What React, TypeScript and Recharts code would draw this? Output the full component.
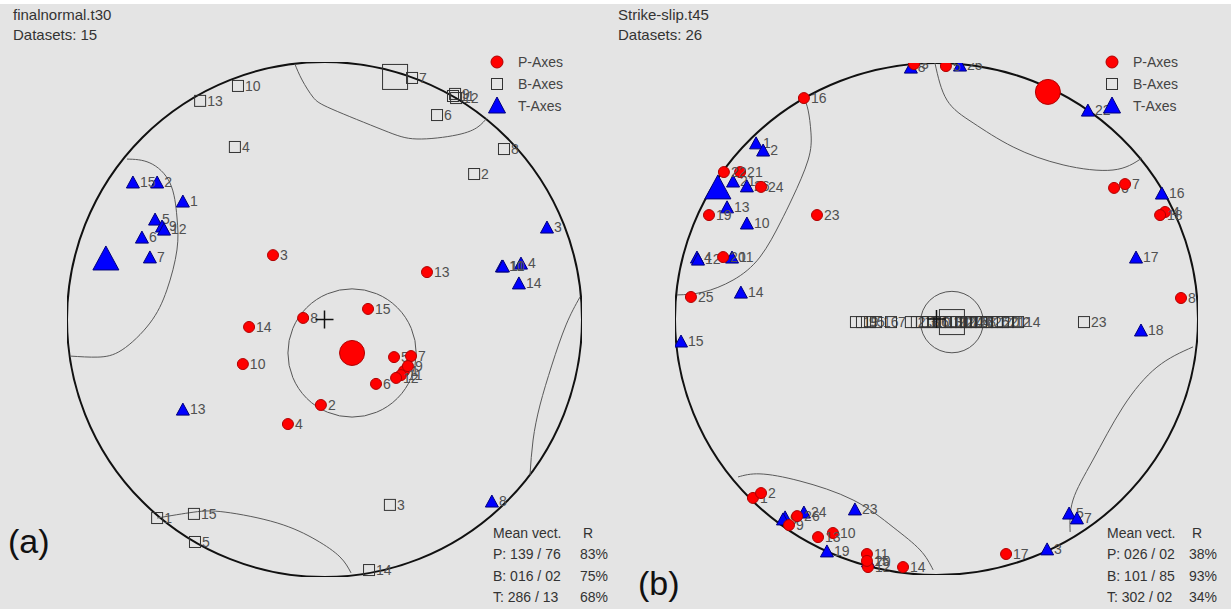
import { ScatterChart, Scatter, XAxis, YAxis } from 'recharts';

type Pt = { id?: number; x: number; y: number };

// Coordinates are on the unit primitive circle: x = east, y = north.

// ---- net (a) finalnormal.t30 ----
const A_P: Pt[] = [
  { id: 1, x: 0.309, y: -0.2 }, { id: 2, x: -0.014, y: -0.332 }, { id: 3, x: -0.2, y: 0.25 },
  { id: 4, x: -0.142, y: -0.406 }, { id: 5, x: 0.27, y: -0.146 }, { id: 6, x: 0.2, y: -0.25 },
  { id: 7, x: 0.336, y: -0.142 }, { id: 8, x: -0.083, y: 0.006 }, { id: 9, x: 0.324, y: -0.181 },
  { id: 10, x: -0.317, y: -0.173 }, { id: 11, x: 0.297, y: -0.216 }, { id: 12, x: 0.278, y: -0.227 },
  { id: 13, x: 0.398, y: 0.184 }, { id: 14, x: -0.293, y: -0.029 }, { id: 15, x: 0.169, y: 0.041 },
];
const A_B: Pt[] = [
  { id: 1, x: -0.65, y: -0.771 }, { id: 2, x: 0.581, y: 0.565 }, { id: 3, x: 0.254, y: -0.72 },
  { id: 4, x: -0.348, y: 0.67 }, { id: 5, x: -0.503, y: -0.864 }, { id: 6, x: 0.437, y: 0.794 },
  { id: 7, x: 0.34, y: 0.938 }, { id: 8, x: 0.697, y: 0.662 }, { id: 9, x: 0.507, y: 0.876 },
  { id: 10, x: -0.336, y: 0.907 }, { id: 11, x: 0.499, y: 0.868 }, { id: 12, x: 0.511, y: 0.86 },
  { id: 13, x: -0.483, y: 0.849 }, { id: 14, x: 0.173, y: -0.973 }, { id: 15, x: -0.507, y: -0.755 },
];
const A_T: Pt[] = [
  { id: 1, x: -0.55, y: 0.46 }, { id: 2, x: -0.65, y: 0.534 }, { id: 3, x: 0.864, y: 0.359 },
  { id: 4, x: 0.763, y: 0.219 }, { id: 5, x: -0.658, y: 0.39 }, { id: 6, x: -0.709, y: 0.32 },
  { id: 7, x: -0.678, y: 0.243 }, { id: 8, x: 0.65, y: -0.705 }, { id: 9, x: -0.631, y: 0.363 },
  { id: 10, x: 0.689, y: 0.208 }, { id: 11, x: 0.693, y: 0.208 }, { id: 12, x: -0.623, y: 0.351 },
  { id: 13, x: -0.55, y: -0.348 }, { id: 14, x: 0.755, y: 0.142 }, { id: 15, x: -0.744, y: 0.534 },
];
const A_MEAN_P: Pt[] = [{ x: 0.107, y: -0.13 }];
const A_MEAN_B: Pt[] = [{ x: 0.274, y: 0.942 }];
const A_MEAN_T: Pt[] = [{ x: -0.849, y: 0.239 }];
const A_CONE_R = 0.249;
const A_CURVES: Pt[][] = [
  [
    { x: -0.115, y: 0.992 }, { x: -0.087, y: 0.93 }, { x: -0.045, y: 0.864 }, { x: 0.029, y: 0.817 },
    { x: 0.227, y: 0.736 }, { x: 0.359, y: 0.701 }, { x: 0.515, y: 0.717 }, { x: 0.596, y: 0.748 },
    { x: 0.631, y: 0.783 },
  ],
  [
    { x: -0.767, y: 0.623 }, { x: -0.678, y: 0.608 }, { x: -0.6, y: 0.53 }, { x: -0.573, y: 0.398 },
    { x: -0.573, y: 0.27 }, { x: -0.612, y: 0.115 }, { x: -0.678, y: -0.014 }, { x: -0.786, y: -0.118 },
    { x: -0.88, y: -0.146 }, { x: -0.988, y: -0.142 },
  ],
  [
    { x: 0.992, y: 0.087 }, { x: 0.938, y: -0.021 }, { x: 0.883, y: -0.177 }, { x: 0.837, y: -0.332 },
    { x: 0.81, y: -0.468 }, { x: 0.798, y: -0.604 },
  ],
  [
    { x: -0.65, y: -0.771 }, { x: -0.507, y: -0.748 }, { x: -0.386, y: -0.748 }, { x: -0.184, y: -0.79 },
    { x: -0.033, y: -0.856 }, { x: 0.06, y: -0.922 }, { x: 0.103, y: -0.984 },
  ],
];
const A_TITLE = ['finalnormal.t30', 'Datasets: 15'];
const A_STATS = [['P: 139 / 76', '83%'], ['B: 016 / 02', '75%'], ['T: 286 / 13', '68%']];

// ---- net (b) Strike-slip.t45 ----
const B_P: Pt[] = [
  { id: 1, x: -0.702, y: -0.699 }, { id: 2, x: -0.671, y: -0.68 }, { id: 3, x: -0.086, y: 0.996 },
  { id: 4, x: 0.874, y: 0.418 }, { id: 5, x: 0.036, y: 0.988 }, { id: 6, x: 0.679, y: 0.512 },
  { id: 7, x: 0.721, y: 0.527 }, { id: 8, x: 0.935, y: 0.082 }, { id: 9, x: -0.564, y: -0.805 },
  { id: 10, x: -0.396, y: -0.836 }, { id: 11, x: -0.266, y: -0.918 }, { id: 12, x: -0.262, y: -0.969 },
  { id: 13, x: -0.453, y: -0.852 }, { id: 14, x: -0.128, y: -0.969 }, { id: 15, x: -0.266, y: -0.945 },
  { id: 16, x: -0.507, y: 0.863 }, { id: 17, x: 0.266, y: -0.918 }, { id: 18, x: 0.855, y: 0.406 },
  { id: 19, x: -0.87, y: 0.406 }, { id: 20, x: -0.816, y: 0.242 }, { id: 21, x: -0.751, y: 0.574 },
  { id: 22, x: -0.813, y: 0.574 }, { id: 23, x: -0.457, y: 0.406 }, { id: 24, x: -0.671, y: 0.516 },
  { id: 25, x: -0.939, y: 0.086 }, { id: 26, x: -0.533, y: -0.77 },
];
const B_B: Pt[] = [
  { id: 19, x: -0.308, y: -0.012 }, { id: 9, x: -0.285, y: -0.012 }, { id: 5, x: -0.254, y: -0.012 },
  { id: 16, x: -0.231, y: -0.012 }, { id: 7, x: -0.174, y: -0.012 }, { id: 2, x: -0.098, y: -0.012 },
  { id: 18, x: -0.075, y: -0.012 }, { id: 3, x: -0.055, y: -0.012 }, { id: 10, x: -0.033, y: -0.012 },
  { id: 6, x: -0.01, y: -0.012 }, { id: 13, x: 0.013, y: -0.012 }, { id: 11, x: 0.036, y: -0.012 },
  { id: 22, x: 0.055, y: -0.012 }, { id: 17, x: 0.075, y: -0.012 }, { id: 24, x: 0.094, y: -0.012 },
  { id: 15, x: 0.113, y: -0.012 }, { id: 26, x: 0.132, y: -0.012 }, { id: 4, x: 0.151, y: -0.012 },
  { id: 8, x: 0.17, y: -0.012 }, { id: 25, x: 0.193, y: -0.012 }, { id: 1, x: 0.212, y: -0.012 },
  { id: 20, x: 0.231, y: -0.012 }, { id: 21, x: 0.254, y: -0.012 }, { id: 12, x: 0.273, y: -0.012 },
  { id: 14, x: 0.312, y: -0.012 }, { id: 23, x: 0.564, y: -0.012 },
];
const B_T: Pt[] = [
  { id: 1, x: -0.69, y: 0.688 }, { id: 2, x: -0.663, y: 0.66 }, { id: 3, x: 0.423, y: -0.898 },
  { id: 4, x: -0.916, y: 0.242 }, { id: 5, x: 0.507, y: -0.758 }, { id: 6, x: -0.579, y: -0.773 },
  { id: 7, x: 0.537, y: -0.777 }, { id: 8, x: -0.098, y: 0.984 }, { id: 9, x: -0.587, y: -0.781 },
  { id: 10, x: -0.725, y: 0.375 }, { id: 11, x: -0.782, y: 0.242 }, { id: 12, x: -0.912, y: 0.234 },
  { id: 13, x: -0.801, y: 0.438 }, { id: 14, x: -0.748, y: 0.105 }, { id: 15, x: -0.977, y: -0.086 },
  { id: 16, x: 0.862, y: 0.492 }, { id: 17, x: 0.763, y: 0.242 }, { id: 18, x: 0.782, y: -0.043 },
  { id: 19, x: -0.419, y: -0.906 }, { id: 20, x: -0.262, y: -0.945 }, { id: 21, x: -0.778, y: 0.539 },
  { id: 22, x: 0.579, y: 0.816 }, { id: 23, x: -0.312, y: -0.742 }, { id: 24, x: -0.507, y: -0.754 },
  { id: 25, x: 0.09, y: 0.992 }, { id: 26, x: -0.725, y: 0.52 },
];
const B_MEAN_P: Pt[] = [{ x: 0.426, y: 0.887 }];
const B_MEAN_B: Pt[] = [{ x: 0.059, y: -0.012 }];
const B_MEAN_T: Pt[] = [{ x: -0.836, y: 0.516 }];
const B_CONE_R = 0.12;
const B_CURVES: Pt[][] = [
  [
    { x: -0.507, y: 0.863 }, { x: -0.491, y: 0.816 }, { x: -0.48, y: 0.727 }, { x: -0.491, y: 0.621 },
    { x: -0.549, y: 0.477 }, { x: -0.598, y: 0.375 }, { x: -0.675, y: 0.242 }, { x: -0.778, y: 0.152 },
    { x: -0.893, y: 0.105 }, { x: -0.992, y: 0.094 },
  ],
  [
    { x: -0.006, y: 1.0 }, { x: 0.04, y: 0.855 }, { x: 0.14, y: 0.766 }, { x: 0.293, y: 0.672 },
    { x: 0.484, y: 0.602 }, { x: 0.675, y: 0.582 }, { x: 0.786, y: 0.629 },
  ],
  [
    { x: 0.981, y: -0.109 }, { x: 0.843, y: -0.188 }, { x: 0.713, y: -0.344 }, { x: 0.598, y: -0.551 },
    { x: 0.522, y: -0.707 }, { x: 0.511, y: -0.832 },
  ],
  [
    { x: -0.759, y: -0.617 }, { x: -0.675, y: -0.605 }, { x: -0.522, y: -0.633 }, { x: -0.319, y: -0.707 },
    { x: -0.166, y: -0.813 }, { x: -0.063, y: -0.902 }, { x: -0.013, y: -0.98 },
  ],
];
const B_TITLE = ['Strike-slip.t45', 'Datasets: 26'];
const B_STATS = [['P: 026 / 02', '38%'], ['B: 101 / 85', '93%'], ['T: 302 / 02', '34%']];

const CENTER: Pt[] = [{ x: 0, y: 0 }];
const LEGEND = ['P-Axes', 'B-Axes', 'T-Axes'];

const FONT = '"Liberation Sans", Arial, sans-serif';
const LABEL = '#505050';
const RED = '#ff0000';
const BLUE = '#0000ff';

function tri(cx: number, cy: number, w: number, h: number) {
  return `${cx},${cy - h / 2} ${cx - w / 2},${cy + h / 2} ${cx + w / 2},${cy + h / 2}`;
}

const label = (p: any) =>
  p.payload?.id != null ? (
    <text x={p.cx + 7} y={p.cy + 5} fontSize={14} fill={LABEL} fontFamily={FONT}>
      {p.payload.id}
    </text>
  ) : null;

const pShape = (r: number) => (p: any) => (
  <g>
    <circle cx={p.cx} cy={p.cy} r={r} fill={RED} stroke="#b00000" strokeWidth={1} />
    {label(p)}
  </g>
);
const bShape = (s: number) => (p: any) => (
  <g>
    <rect x={p.cx - s / 2} y={p.cy - s / 2} width={s} height={s} fill="none" stroke="#333" strokeWidth={1} />
    {label(p)}
  </g>
);
const tShape = (w: number, h: number) => (p: any) => (
  <g>
    <polygon points={tri(p.cx, p.cy, w, h)} fill={BLUE} stroke="#00007a" strokeWidth={1} />
    {label(p)}
  </g>
);
const none = () => <g />;

interface NetProps {
  left: number;
  width: number;
  height: number;
  margin: { top: number; right: number; bottom: number; left: number };
  p: Pt[];
  b: Pt[];
  t: Pt[];
  meanP: Pt[];
  meanB: Pt[];
  meanT: Pt[];
  cone: Pt[];
  coneR: number;
  curves: Pt[][];
}

function Net(props: NetProps) {
  const { margin } = props;
  const rx = (props.width - margin.left - margin.right) / 2;
  const ry = (props.height - margin.top - margin.bottom) / 2;

  const frame = (s: any) => (
    <g stroke="#111" fill="none">
      <ellipse cx={s.cx} cy={s.cy} rx={rx} ry={ry} strokeWidth={2} />
      <line x1={s.cx} y1={s.cy - ry} x2={s.cx} y2={s.cy - ry - 24} strokeWidth={1.5} />
      <line x1={s.cx} y1={s.cy + ry} x2={s.cx} y2={s.cy + ry + 14} strokeWidth={1.5} />
      <line x1={s.cx - rx} y1={s.cy} x2={s.cx - rx - 12} y2={s.cy} strokeWidth={1.5} />
      <line x1={s.cx + rx} y1={s.cy} x2={s.cx + rx + 12} y2={s.cy} strokeWidth={1.5} />
    </g>
  );
  const coneShape = (s: any) => (
    <ellipse cx={s.cx} cy={s.cy} rx={props.coneR * rx} ry={props.coneR * ry} fill="none" stroke="#555" strokeWidth={1} />
  );
  const cross = (s: any) => (
    <g stroke="#111" strokeWidth={1.5}>
      <line x1={s.cx - 9} y1={s.cy} x2={s.cx + 9} y2={s.cy} />
      <line x1={s.cx} y1={s.cy - 9} x2={s.cx} y2={s.cy + 9} />
    </g>
  );

  return (
    <div style={{ position: 'absolute', left: props.left, top: 0 }}>
      <ScatterChart width={props.width} height={props.height} margin={margin}>
        <XAxis type="number" dataKey="x" domain={[-1, 1]} allowDataOverflow hide />
        <YAxis type="number" dataKey="y" domain={[-1, 1]} allowDataOverflow hide />
        <Scatter data={CENTER} shape={frame} isAnimationActive={false} />
        <Scatter data={props.cone} shape={coneShape} isAnimationActive={false} />
        {props.curves.map((c, i) => (
          <Scatter
            key={i}
            data={c}
            shape={none}
            line={{ stroke: '#5a5a5a', strokeWidth: 1 }}
            lineType="joint"
            lineJointType="natural"
            isAnimationActive={false}
          />
        ))}
        <Scatter data={props.b} shape={bShape(11)} isAnimationActive={false} />
        <Scatter data={props.t} shape={tShape(13, 12)} isAnimationActive={false} />
        <Scatter data={props.p} shape={pShape(5.5)} isAnimationActive={false} />
        <Scatter data={props.meanB} shape={bShape(25)} isAnimationActive={false} />
        <Scatter data={props.meanT} shape={tShape(26, 24)} isAnimationActive={false} />
        <Scatter data={props.meanP} shape={pShape(12.5)} isAnimationActive={false} />
        <Scatter data={CENTER} shape={cross} isAnimationActive={false} />
      </ScatterChart>
    </div>
  );
}

function Texts({ x, title, stats, legendX, tag, tagX, tagY, statsX, pctX }: {
  x: number; title: string[]; stats: string[][]; legendX: number; tag: string; tagX: number; tagY: number; statsX: number; pctX: number;
}) {
  return (
    <g fontFamily={FONT}>
      <text x={x} y={20} fontSize={15} fill="#333">{title[0]}</text>
      <text x={x} y={40} fontSize={15} fill="#333">{title[1]}</text>
      <circle cx={legendX} cy={62} r={6} fill={RED} stroke="#b00000" />
      <rect x={legendX - 5.5} y={78.5} width={11} height={11} fill="none" stroke="#333" />
      <polygon points={tri(legendX, 105, 17, 16)} fill={BLUE} stroke="#00007a" />
      {LEGEND.map((l, i) => (
        <text key={l} x={legendX + 21} y={67 + i * 22} fontSize={14} fill="#444">{l}</text>
      ))}
      <text x={statsX} y={538} fontSize={14} fill="#333">Mean vect.</text>
      <text x={pctX + 3} y={538} fontSize={14} fill="#333">R</text>
      {stats.map((s, i) => (
        <g key={s[0]}>
          <text x={statsX} y={559 + i * 21.5} fontSize={14} fill="#333">{s[0]}</text>
          <text x={pctX} y={559 + i * 21.5} fontSize={14} fill="#333">{s[1]}</text>
        </g>
      ))}
      <text x={tagX} y={tagY} fontSize={34} fill="#111">{tag}</text>
    </g>
  );
}

export default function App() {
  return (
    <div style={{ position: 'absolute', left: 0, top: 0, width: 1231, height: 609, background: '#e4e4e4', overflow: 'hidden' }}>
      <div style={{ position: 'absolute', left: 0, top: 0, width: 1231, height: 4, background: '#fff' }} />
      <Net
        left={0}
        width={615}
        height={609}
        margin={{ top: 62, right: 33, bottom: 32, left: 67 }}
        p={A_P}
        b={A_B}
        t={A_T}
        meanP={A_MEAN_P}
        meanB={A_MEAN_B}
        meanT={A_MEAN_T}
        cone={A_MEAN_P}
        coneR={A_CONE_R}
        curves={A_CURVES}
      />
      <Net
        left={615}
        width={616}
        height={609}
        margin={{ top: 63, right: 33, bottom: 34, left: 60 }}
        p={B_P}
        b={B_B}
        t={B_T}
        meanP={B_MEAN_P}
        meanB={B_MEAN_B}
        meanT={B_MEAN_T}
        cone={B_MEAN_B}
        coneR={B_CONE_R}
        curves={B_CURVES}
      />
      <svg width={1231} height={609} style={{ position: 'absolute', left: 0, top: 0, pointerEvents: 'none' }}>
        <Texts x={13} title={A_TITLE} stats={A_STATS} legendX={497} tag="(a)" tagX={8} tagY={553} statsX={493} pctX={580} />
        <Texts x={618} title={B_TITLE} stats={B_STATS} legendX={1112} tag="(b)" tagX={638} tagY={595} statsX={1107} pctX={1189} />
      </svg>
    </div>
  );
}
